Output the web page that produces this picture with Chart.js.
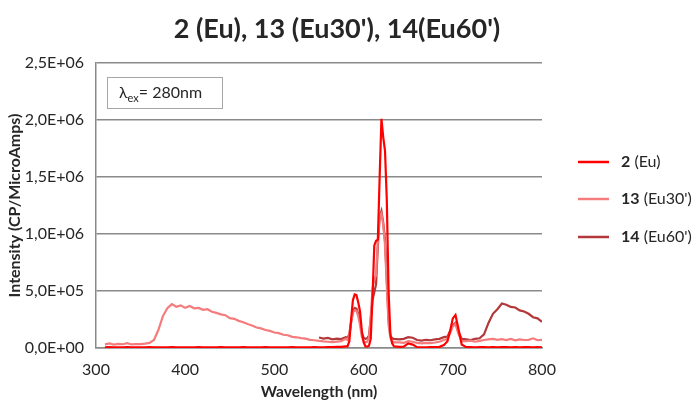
<!DOCTYPE html>
<html>
<head>
<meta charset="utf-8">
<script src="https://cdn.jsdelivr.net/npm/chart.js@4"></script>
<style>
  html, body { margin: 0; padding: 0; background: #fff; }
  #wrap { width: 696px; height: 401px; }
</style>
</head>
<body>
<div id="wrap"><canvas id="chart" width="696" height="401"></canvas></div>
<script>
// Wavelength grid (nm)
const wavelengths = [
  310, 315, 320, 325, 330, 335, 340, 345, 350, 355, 360,
  365, 370, 375, 380, 385, 390, 395, 400, 405, 410, 415,
  420, 425, 430, 435, 440, 445, 450, 455, 460, 465, 470,
  475, 480, 485, 490, 495, 500, 505, 510, 515, 520, 525,
  530, 535, 540, 545, 550, 555, 560, 565, 570, 575, 580,
  582, 584, 586, 588, 590, 592, 594, 596, 598, 600, 602, 604, 606, 608,
  610, 612, 614, 616, 618, 620, 622, 624, 626, 628, 630, 632, 634,
  640, 645, 650, 655, 660, 665, 670, 675, 680, 685, 690,
  694, 697, 700, 703, 706, 710,
  715, 720, 725, 730, 735, 740, 745, 750, 755, 760, 765, 770, 775, 780, 785, 790, 795, 800
];

// 2 (Eu)
const eu2 = [
  6000, 7000, 6000, 5000, 6000, 7000, 6000, 6000, 5000, 6000, 7000,
  6000, 6000, 5000, 6000, 7000, 6000, 6000, 5000, 6000, 6000, 7000,
  6000, 5000, 6000, 6000, 7000, 6000, 5000, 6000, 6000, 7000, 6000,
  6000, 5000, 6000, 7000, 6000, 6000, 5000, 6000, 6000, 7000, 6000,
  5000, 6000, 6000, 7000, 6000, 6000, 7000, 8000, 9000, 10000, 15000,
  15000, 60000, 250000, 420000, 470000, 465000, 400000, 320000, 150000, 50000, 15000, 12000, 20000, 80000,
  450000, 900000, 940000, 950000, 1500000, 2010000, 1850000, 1730000, 1300000, 500000, 120000, 40000, 15000,
  10000, 12000, 40000, 30000, 8000, 6000, 6000, 7000, 8000, 10000, 25000,
  60000, 150000, 260000, 290000, 180000, 30000,
  8000, 7000, 6000, 7000, 8000, 6000, 7000, 6000, 7000, 8000, 6000, 7000, 6000, 7000, 8000, 6000, 7000, 6000
];

// 13 (Eu30')
const eu30 = [
  32000, 40000, 30000, 36000, 33000, 42000, 31000, 35000, 34000, 39000, 45000,
  70000, 160000, 280000, 350000, 385000, 362000, 374000, 352000, 368000, 348000, 352000,
  335000, 340000, 318000, 308000, 295000, 288000, 262000, 256000, 238000, 226000, 210000,
  198000, 180000, 172000, 158000, 150000, 136000, 130000, 116000, 112000, 98000, 94000,
  86000, 82000, 72000, 68000, 62000, 58000, 55000, 52000, 56000, 60000, 80000,
  70000, 110000, 220000, 310000, 330000, 325000, 280000, 200000, 100000, 60000, 50000, 55000, 90000, 280000,
  520000, 600000, 640000, 950000, 1150000, 1180000, 1080000, 900000, 550000, 200000, 90000, 60000, 50000,
  50000, 45000, 60000, 55000, 45000, 40000, 45000, 42000, 48000, 55000, 70000,
  80000, 130000, 190000, 210000, 130000, 60000,
  60000, 65000, 55000, 62000, 70000, 75000, 80000, 72000, 78000, 70000, 80000, 68000, 75000, 70000, 72000, 85000, 68000, 72000
];

// 14 (Eu60') - recorded from 550 nm
const eu60 = [
  null, null, null, null, null, null, null, null, null, null, null,
  null, null, null, null, null, null, null, null, null, null, null,
  null, null, null, null, null, null, null, null, null, null, null,
  null, null, null, null, null, null, null, null, null, null, null,
  null, null, null, null, 92000, 82000, 88000, 76000, 82000, 78000, 95000,
  90000, 120000, 230000, 320000, 350000, 345000, 300000, 230000, 130000, 90000, 80000, 85000, 110000, 250000,
  420000, 490000, 560000, 900000, 1150000, 1200000, 1100000, 950000, 600000, 250000, 110000, 85000, 80000,
  75000, 80000, 95000, 90000, 70000, 65000, 72000, 68000, 75000, 80000, 95000,
  100000, 150000, 200000, 220000, 150000, 80000,
  75000, 70000, 80000, 85000, 120000, 220000, 300000, 340000, 390000, 380000, 360000, 355000, 330000, 320000, 300000, 270000, 260000, 230000
];

const seriesNames = [["2", " (Eu)"], ["13", " (Eu30')"], ["14", " (Eu60')"]];
const seriesColors = ["#ff0000", "#f47c7c", "#b3383a"];

function toPoints(values) {
  const pts = [];
  values.forEach((v, i) => {
    if (v !== null) pts.push({ x: wavelengths[i], y: v });
  });
  return pts;
}

function sci(v) {
  if (v === 0) return "0,0E+00";
  const e = Math.floor(Math.log10(v) + 1e-9);
  const m = v / Math.pow(10, e);
  return m.toFixed(1).replace(".", ",") + "E+" + String(e).padStart(2, "0");
}

const FONT = "Lato, 'Open Sans', sans-serif";
const TEXT = "#262626";

// title, annotation box and legend drawn on the canvas
const extras = {
  id: "extras",
  afterDraw(chart) {
    const ctx = chart.ctx;
    ctx.save();

    // title
    ctx.fillStyle = TEXT;
    ctx.font = "bold 27px " + FONT;
    ctx.textAlign = "center";
    ctx.textBaseline = "middle";
    ctx.fillText("2 (Eu), 13 (Eu30'), 14(Eu60')", 337, 29);

    // excitation box
    ctx.fillStyle = "#fff";
    ctx.fillRect(107, 77, 115, 31);
    ctx.strokeStyle = "#a6a6a6";
    ctx.lineWidth = 1;
    ctx.strokeRect(107.5, 77.5, 115, 31);
    ctx.fillStyle = TEXT;
    ctx.textAlign = "left";
    ctx.font = "16px " + FONT;
    ctx.fillText("\u03bb", 119, 93);
    const lw = ctx.measureText("\u03bb").width;
    ctx.font = "11px " + FONT;
    ctx.fillText("ex", 119 + lw, 98);
    const ew = ctx.measureText("ex").width;
    ctx.font = "16px " + FONT;
    ctx.fillText("= 280nm", 119 + lw + ew, 93);

    // legend
    const rows = [162, 199, 237];
    rows.forEach((y, i) => {
      ctx.strokeStyle = seriesColors[i];
      ctx.lineWidth = 2.5;
      ctx.beginPath();
      ctx.moveTo(578, y);
      ctx.lineTo(609, y);
      ctx.stroke();
      ctx.fillStyle = TEXT;
      ctx.font = "bold 16px " + FONT;
      ctx.fillText(seriesNames[i][0], 621, y);
      const w = ctx.measureText(seriesNames[i][0]).width;
      ctx.font = "16px " + FONT;
      ctx.fillText(seriesNames[i][1], 621 + w, y);
    });
    ctx.restore();
  }
};

new Chart(document.getElementById("chart"), {
  type: "line",
  data: {
    datasets: [
      { label: "2 (Eu)", data: toPoints(eu2), borderColor: seriesColors[0], borderWidth: 2.2 },
      { label: "13 (Eu30')", data: toPoints(eu30), borderColor: seriesColors[1], borderWidth: 2.2 },
      { label: "14 (Eu60')", data: toPoints(eu60), borderColor: seriesColors[2], borderWidth: 2.2 }
    ]
  },
  options: {
    responsive: false,
    animation: false,
    layout: { padding: { left: 0, right: 154, top: 63, bottom: 0 } },
    elements: { point: { radius: 0 }, line: { tension: 0 } },
    plugins: { legend: { display: false }, tooltip: { enabled: false } },
    scales: {
      x: {
        type: "linear",
        min: 300,
        max: 800,
        afterFit: (s) => { s.height = 53; },
        ticks: { stepSize: 100, padding: 12, color: TEXT, font: { family: FONT, size: 16 } },
        grid: { display: false, drawTicks: false },
        border: { display: true, color: "#8a8a8a", width: 1.5 },
        title: {
          display: true,
          text: "Wavelength (nm)",
          color: TEXT,
          font: { family: FONT, size: 15.5, weight: "bold" },
          padding: { top: 0, bottom: 0 }
        }
      },
      y: {
        min: 0,
        max: 2500000,
        afterFit: (s) => { s.width = 96; },
        ticks: { stepSize: 500000, padding: 12, color: TEXT, font: { family: FONT, size: 16 }, callback: (v) => sci(v) },
        grid: { color: "#8a8a8a", lineWidth: 1.5, drawTicks: false },
        border: { display: true, color: "#8a8a8a", width: 1.5 },
        title: {
          display: true,
          text: "Intensity (CP/MicroAmps)",
          color: TEXT,
          font: { family: FONT, size: 16, weight: "bold" },
          padding: { top: 5, bottom: 0 }
        }
      }
    }
  },
  plugins: [extras]
});
</script>
</body>
</html>
